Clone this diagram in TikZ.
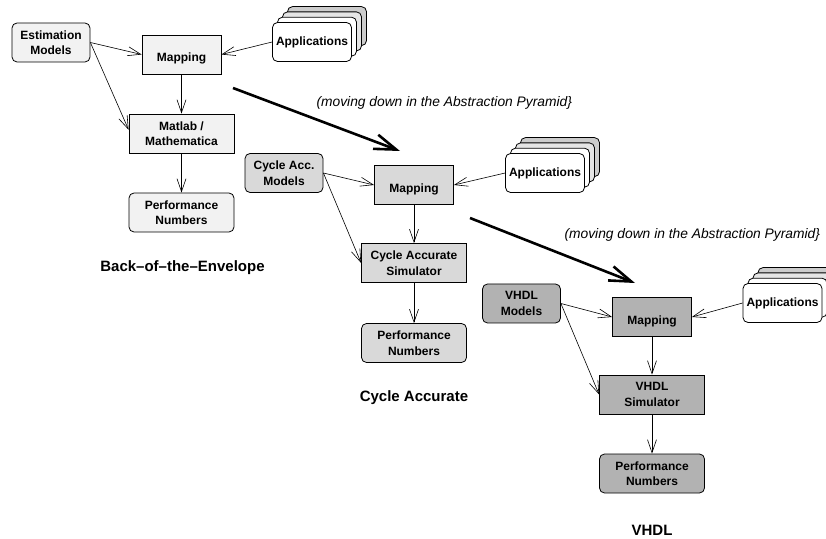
\documentclass[tikz,border=0pt]{standalone}
\usepackage{fontspec}
\setmainfont{Liberation Sans}
\usetikzlibrary{
		calc,
		positioning,
		arrows.meta
	}
\tikzset{
		>={Straight Barb[length=13pt,width=9pt]}
	}
\definecolor{backfill}{gray}{0.95}
\definecolor{cyclefill}{gray}{0.85}
\definecolor{vhdlfill}{gray}{0.70}
\newcommand{\boxfont}{\fontsize{12}{15.5}\selectfont\bfseries}
\newcommand{\notefont}{\fontsize{13.8}{16}\selectfont\itshape}
\newcommand{\titlefont}{\fontsize{15}{18}\selectfont\bfseries}
% pile of application cards, front card named #1
\newcommand{\appstack}[3]{%
	\foreach \k/\c in {3/gray!40, 2/gray!20, 1/white}
		\node[appbox, fill=\c] (#1-\k) at ($(#2,#3)+(\k*5,\k*5.3)$) {};
	\node[appbox, fill=white] (#1) at (#2,#3) {Applications};
}

\begin{document}
\begin{tikzpicture}[x=1pt, y=1pt,
				box/.style={draw, line width=0.8pt, inner sep=0pt, align=center, font=\boxfont},
				model/.style={box, rounded corners=5pt, minimum width=78pt, minimum height=39pt},
				mapbox/.style={box, minimum width=79pt, minimum height=39pt, text height=14.6pt, text depth=0pt},
				simbox/.style={box, minimum width=105pt, minimum height=39pt},
				perfbox/.style={simbox, rounded corners=5pt},
				appbox/.style={box, rounded corners=5pt, minimum width=79pt, minimum height=39pt},
				link/.style={->, line width=0.6pt},
				jump/.style={-{Straight Barb[length=22pt,width=15pt]}, line width=2.6pt},
				note/.style={font=\notefont, anchor=west},
				stagetitle/.style={font=\titlefont, anchor=base}]
	\useasboundingbox (0,0) rectangle (826,538);
	\clip (0,0) rectangle (826,538);

	% back-of-the-envelope
	\node[model, fill=backfill] (est) at (51,495.5) {Estimation\\Models};
	\node[mapbox, fill=backfill] (map1) at (181.5,483.5) {Mapping};
	\appstack{app1}{312}{496}
	\node[simbox, fill=backfill] (mat) at (181.5,404.5) {Matlab /\\Mathematica};
	\node[perfbox, fill=backfill] (perf1) at (181.5,325.5) {Performance\\Numbers};
	\node[stagetitle] (t1) at (182.5,266.6) {Back--of--the--Envelope};

	\draw[link] (est.east) -- (map1.west);
	\draw[link] (est.east) -- (mat.176);
	\draw[link] (app1.west) -- (map1.east);
	\draw[link] (map1) -- (mat);
	\draw[link] (mat) -- (perf1);

	% cycle accurate
	\node[model, fill=cyclefill] (cam) at (284,365) {Cycle Acc.\\Models};
	\node[mapbox, fill=cyclefill] (map2) at (414,353) {Mapping};
	\appstack{app2}{545}{365}
	\node[simbox, fill=cyclefill] (cas) at (414,275) {Cycle Accurate\\Simulator};
	\node[perfbox, fill=cyclefill] (perf2) at (414,195) {Performance\\Numbers};
	\node[stagetitle] (t2) at (414,136.6) {Cycle Accurate};

	\draw[link] (cam.east) -- (map2.west);
	\draw[link] (cam.east) -- (cas.west);
	\draw[link] (app2.west) -- (map2.east);
	\draw[link] (map2) -- (cas);
	\draw[link] (cas) -- (perf2);

	% vhdl
	\node[model, fill=vhdlfill] (vm) at (521.5,234.5) {VHDL\\Models};
	\node[mapbox, fill=vhdlfill] (map3) at (652,221) {Mapping};
	\appstack{app3}{782.5}{235}
	\node[simbox, fill=vhdlfill] (vsim) at (652,143.5) {VHDL\\Simulator};
	\node[perfbox, fill=vhdlfill] (perf3) at (652,64.5) {Performance\\Numbers};
	\node[stagetitle] (t3) at (652,2.6) {VHDL};

	\draw[link] (vm.east) -- (map3.west);
	\draw[link] (vm.east) -- (vsim.west);
	\draw[link] (app3.west) -- (map3.east);
	\draw[link] (map3) -- (vsim);
	\draw[link] (vsim) -- (perf3);

	% steps down the pyramid
	\coordinate (down1a) at (233,450);
	\coordinate (down1b) at (400,387);
	\draw[jump] (down1a) -- (down1b);
	\node[note] (note1) at (313,435) {(moving down in the Abstraction Pyramid\}};

	\coordinate (down2a) at (470,320);
	\coordinate (down2b) at (635,255);
	\draw[jump] (down2a) -- (down2b);
	\node[note] (note2) at (561,303) {(moving down in the Abstraction Pyramid\}};
\end{tikzpicture}
\end{document}
